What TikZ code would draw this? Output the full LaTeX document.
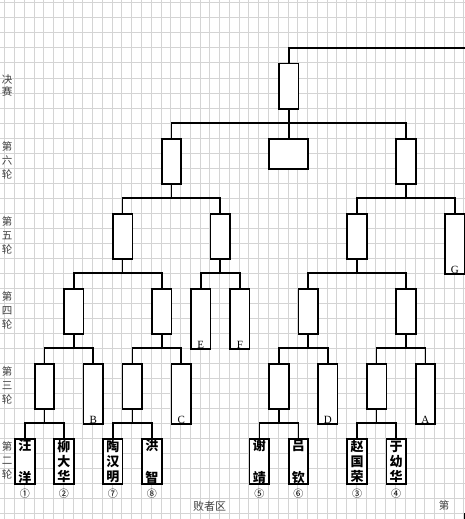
\documentclass[tikz,border=0pt]{standalone}
\usepackage{fontspec}
\setmainfont{Liberation Serif}
\newfontfamily\cjk{Noto Sans CJK SC}
\usetikzlibrary{positioning, calc}

\tikzset{
    game/.style={draw, line width=1.7pt, fill=white, inner sep=0pt, anchor=north west,
        minimum width=19.54pt, minimum height=45.06pt, align=center,
        font=\cjk\bfseries\fontsize{13}{15}\selectfont},
    bye/.style={game, minimum height=60.08pt,
        label={[anchor=south, inner sep=1.2pt, font=\fontsize{11}{11}\selectfont]south:#1}},
    link/.style={line width=1.7pt},
    gridline/.style={black!17, line width=0.6pt},
    roundname/.style={font=\cjk\fontsize{10.5}{14}\selectfont, text=black!75, align=center, inner sep=0pt},
    seed/.style={font=\cjk\fontsize{10}{10}\selectfont, inner sep=0pt},
}

\begin{document}
\begin{tikzpicture}[x=9.77pt, y=-15.02pt]
        % the sheet
        \useasboundingbox (-0.4606,-0.1798) rectangle (47.134,34.374);
        \clip (-0.4606,-0.1798) rectangle (47.134,34.374);
        \fill[white] (-0.4606,-0.1798) rectangle (47.134,34.374);
        \foreach \i in {0,...,47} \draw[gridline] (\i,-0.2) -- (\i,34.4);
        \foreach \j in {0,...,34} \draw[gridline] (-0.47,\j) -- (47.14,\j);

        % final
        \node[game] (final) at (28,4) {};
        \coordinate (out) at (47.2,3);

        % round six
        \node[game] (six1) at (16,9) {};
        \node[game, minimum width=39.08pt, minimum height=30.04pt] (six2) at (27,9) {};
        \node[game] (six3) at (40,9) {};

        % round five
        \node[game] (five1) at (11,14) {};
        \node[game] (five2) at (21,14) {};
        \node[game] (five3) at (35,14) {};
        \node[bye=G] (G) at (45,14) {};

        % round four
        \node[game] (four1) at (6,19) {};
        \node[game] (four2) at (15,19) {};
        \node[bye=E] (E) at (19,19) {};
        \node[bye=F] (F) at (23,19) {};
        \node[game] (four3) at (30,19) {};
        \node[game] (four4) at (40,19) {};

        % round three
        \node[game] (three1) at (3,24) {};
        \node[bye=B] (B) at (8,24) {};
        \node[game] (three2) at (12,24) {};
        \node[bye=C] (C) at (17,24) {};
        \node[game] (three3) at (27,24) {};
        \node[bye=D] (D) at (32,24) {};
        \node[game] (three4) at (37,24) {};
        \node[bye=A] (A) at (42,24) {};

        % round two, the players
        \node[game] (wang) at (1,29) {汪\\[17pt]洋};
        \node[game] (liu) at (5,29) {柳\\大\\华};
        \node[game] (tao) at (10,29) {陶\\汉\\明};
        \node[game] (hong) at (14,29) {洪\\[17pt]智};
        \node[game] (xie) at (25,29) {谢\\[17pt]靖};
        \node[game] (lv) at (29,29) {吕\\[17pt]钦};
        \node[game] (zhao) at (35,29) {赵\\国\\荣};
        \node[game] (yu) at (39,29) {于\\幼\\华};

        \node[seed, below=4pt of wang] (no1) {①};
        \node[seed, below=4pt of liu] (no2) {②};
        \node[seed, below=4pt of tao] (no7) {⑦};
        \node[seed, below=4pt of hong] (no8) {⑧};
        \node[seed, below=4pt of xie] (no5) {⑤};
        \node[seed, below=4pt of lv] (no6) {⑥};
        \node[seed, below=4pt of zhao] (no3) {③};
        \node[seed, below=4pt of yu] (no4) {④};

        \node[game] (cut) at (47,34) {};

        % the brackets
        \foreach \c/\p in {wang/three1, liu/three1, tao/three2, hong/three2,
                xie/three3, lv/three3, zhao/three4, yu/three4,
                three1/four1, B/four1, three2/four2, C/four2,
                three3/four3, D/four3, three4/four4, A/four4,
                four1/five1, four2/five1, E/five2, F/five2, four3/five3, four4/five3,
                five1/six1, five2/six1, five3/six3, G/six3,
                six1/final, six2/final, six3/final}
            \draw[link] (\c.north) -- ++(0,-1) -| (\p.south);
        \draw[link] (final.north) |- (out);

        % round names
        \node[roundname, font=\cjk\fontsize{10.5}{12}\selectfont] (rfinal) at (0.26,5.5) {决\\赛};
        \node[roundname] (r6) at (0.26,10.5) {第\\六\\轮};
        \node[roundname] (r5) at (0.26,15.5) {第\\五\\轮};
        \node[roundname] (r4) at (0.26,20.5) {第\\四\\轮};
        \node[roundname] (r3) at (0.26,25.5) {第\\三\\轮};
        \node[roundname] (r2) at (0.26,30.5) {第\\二\\轮};
        \node[roundname, font=\cjk\fontsize{11}{11}\selectfont] (loser) at (21,33.5) {败者区};
        \node[roundname] (rnext) at (45,33.5) {第};
\end{tikzpicture}
\end{document}
